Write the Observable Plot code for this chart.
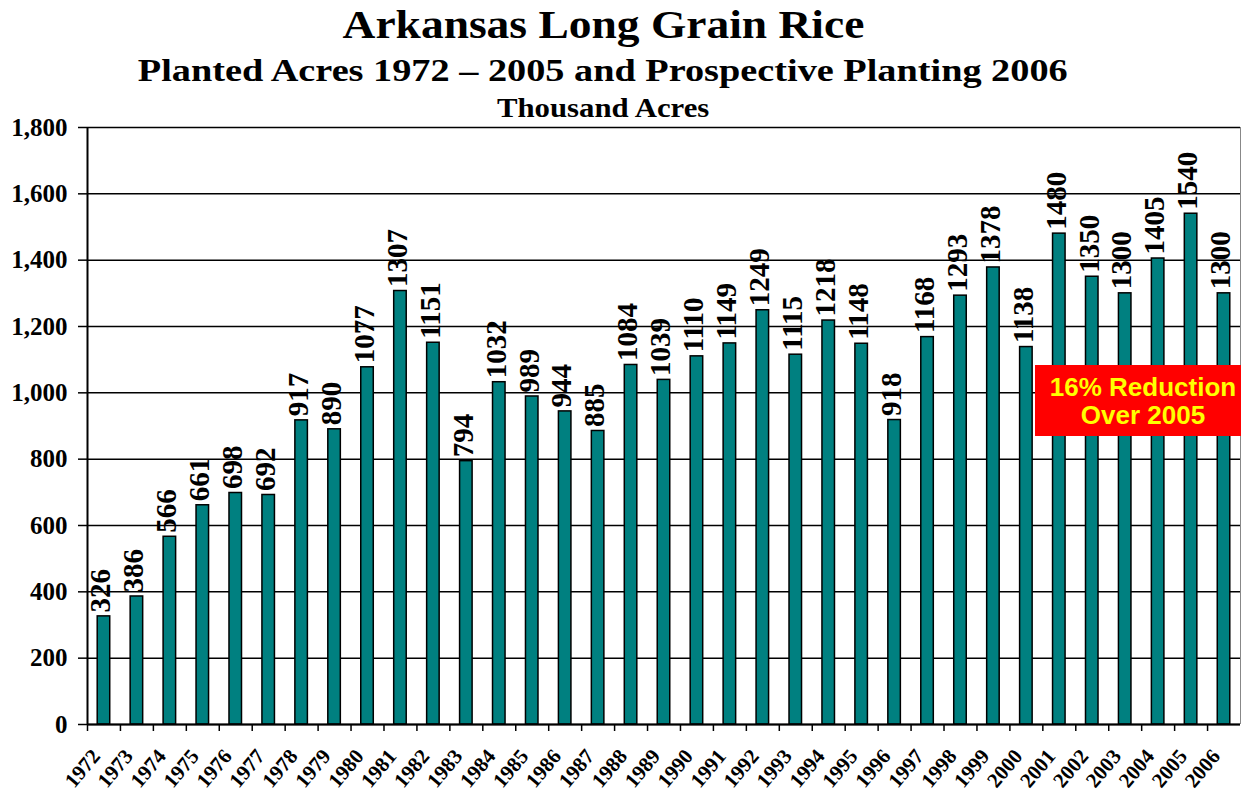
<!DOCTYPE html>
<html>
<head>
<meta charset="utf-8">
<script src="https://cdn.jsdelivr.net/npm/d3@7"></script>
<script src="https://cdn.jsdelivr.net/npm/@observablehq/plot@0.6"></script>
<style>
  html, body { margin: 0; padding: 0; background: #fff; }
  #wrap { position: relative; width: 1241px; height: 792px; overflow: hidden; font-family: "Liberation Serif", "Times New Roman", serif; }
  #chart { position: absolute; left: 0; top: 0; }
  .t { position: absolute; left: 0; width: 1206px; text-align: center; font-weight: bold; color: #000; line-height: 1; white-space: nowrap; }
  .t span { display: inline-block; transform-origin: 50% 50%; }
  #title { top: 4.5px; font-size: 40px; }
  #title span { transform: scaleX(1.137); }
  #subtitle { top: 54px; font-size: 32px; }
  #subtitle span { transform: scaleX(1.196); }
  #unit { top: 95px; font-size: 27px; }
  #unit span { transform: scaleX(1.14); }
  #note { position: absolute; left: 1035px; top: 365px; width: 206px; height: 71px; background: #ff0000; color: #ffff00;
          font-family: "Liberation Sans", Arial, sans-serif; font-weight: bold; font-size: 26px; line-height: 28px;
          box-sizing: border-box; padding-top: 8px; padding-left: 10px; text-align: center; }
</style>
</head>
<body>
<div id="wrap">
  <div id="chart"></div>
  <div class="t" id="title"><span>Arkansas Long Grain Rice</span></div>
  <div class="t" id="subtitle"><span>Planted Acres 1972 – 2005 and Prospective Planting 2006</span></div>
  <div class="t" id="unit"><span>Thousand Acres</span></div>
  <div id="note">16% Reduction<br>Over 2005</div>
</div>
<script>
const years = ["1972","1973","1974","1975","1976","1977","1978","1979","1980","1981",
               "1982","1983","1984","1985","1986","1987","1988","1989","1990","1991",
               "1992","1993","1994","1995","1996","1997","1998","1999","2000","2001",
               "2002","2003","2004","2005","2006"];
const acres = [326, 386, 566, 661, 698, 692, 917, 890, 1077, 1307,
               1151, 794, 1032, 989, 944, 885, 1084, 1039, 1110, 1149,
               1249, 1115, 1218, 1148, 918, 1168, 1293, 1378, 1138, 1480,
               1350, 1300, 1405, 1540, 1300];
const yTicks = [0, 200, 400, 600, 800, 1000, 1200, 1400, 1600, 1800];

const data = years.map((y, i) => ({year: y, value: acres[i]}));

const W = 1241, H = 792, mL = 87, mR = 1, mT = 127, mB = 68;
const step = (W - mL - mR) / years.length;
const serif = "Liberation Serif, Times New Roman, serif";

const chart = Plot.plot({
  width: W, height: H,
  marginLeft: mL, marginRight: mR, marginTop: mT, marginBottom: mB,
  style: {fontFamily: serif, color: "#000", background: "#fff", overflow: "visible"},
  x: {domain: years, paddingInner: 0.62, paddingOuter: 0.31, axis: null},
  y: {domain: [0, 1800], axis: null},
  marks: [
    Plot.ruleY(yTicks, {stroke: "#000", strokeWidth: 1.5}),
    Plot.ruleX([years[years.length - 1]], {dx: step / 2, stroke: "#888", strokeWidth: 1}),
    Plot.barY(data, {x: "year", y: "value", fill: "#008080", stroke: "#000", strokeWidth: 1.5}),
    Plot.text(data, {x: "year", y: "value", text: d => String(d.value), rotate: -90, textAnchor: "start",
      dy: -4, dx: -3, fontSize: 29, fontWeight: "bold", fontFamily: serif, fill: "#000"}),
    Plot.axisY({ticks: yTicks, tickSize: 9, tickPadding: 11, tickFormat: d3.format(","), label: null,
      fontSize: 25, fontWeight: "bold", fontFamily: serif, strokeWidth: 1.5, stroke: "#000", fill: "#000"}),
    Plot.ruleX([years[0]], {dx: -step / 2, stroke: "#000", strokeWidth: 2}),
    Plot.ruleY([0], {stroke: "#000", strokeWidth: 2}),
    Plot.axisX({tickSize: 7, text: null, label: null, dx: -step / 2, strokeWidth: 1.5, stroke: "#000"}),
    Plot.axisX({tickSize: 0, tickPadding: 28, tickRotate: -50, dx: -8, label: null,
      fontSize: 21, fontWeight: "bold", fontFamily: serif, fill: "#000"})
  ]
});
document.getElementById("chart").appendChild(chart);
</script>
</body>
</html>
